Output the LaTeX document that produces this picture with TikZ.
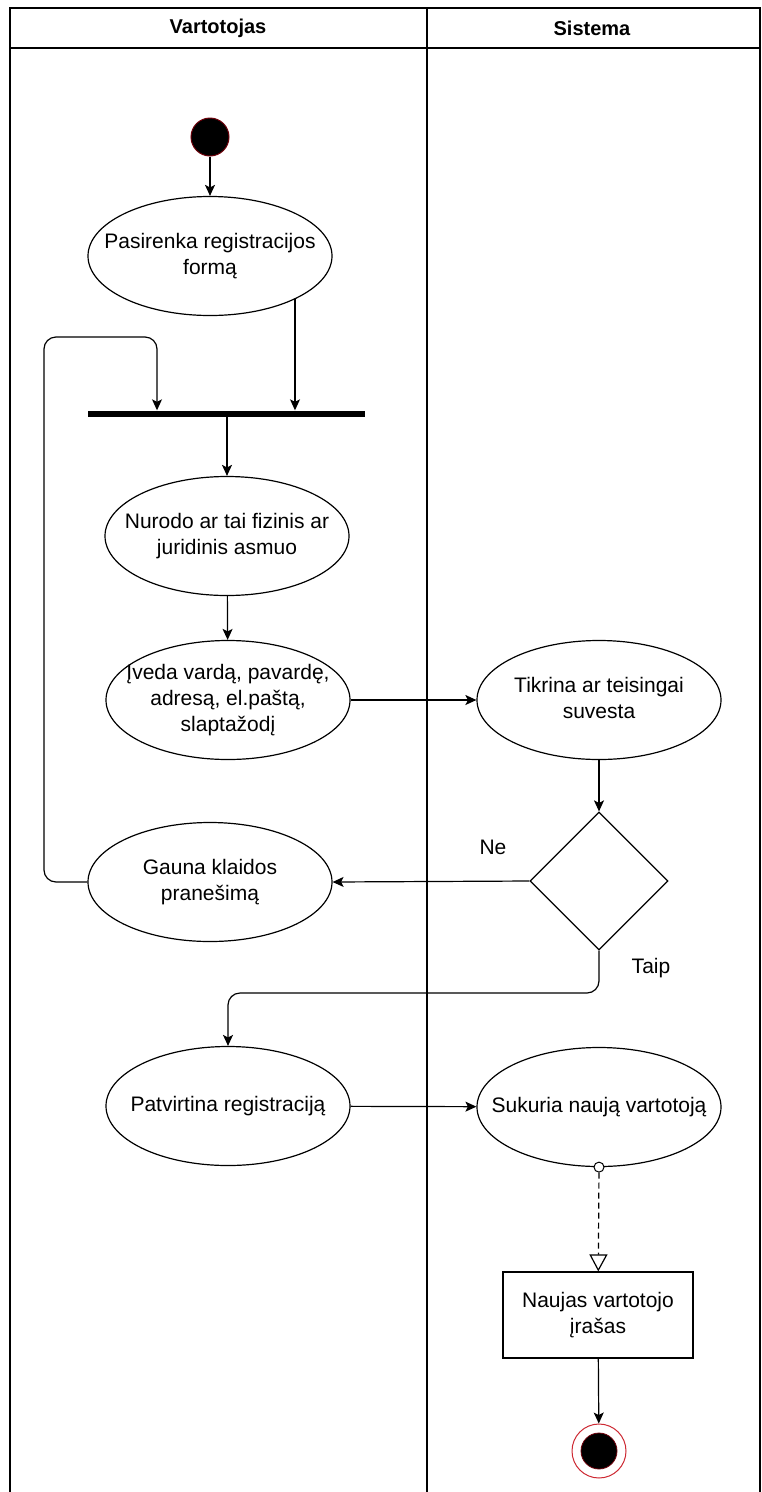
\documentclass[tikz,border=0pt]{standalone}
\usepackage{fontspec}
\setmainfont{Liberation Sans}
\usetikzlibrary{shapes.geometric, arrows.meta}

% centred multi-line text that does not widen the surrounding shape
\newcommand\mlines[1]{\makebox[0pt]{\begin{tabular}{@{}c@{}}#1\end{tabular}}}

\definecolor{darkrim}{RGB}{110,0,10}
\definecolor{endrim}{RGB}{205,40,50}

\begin{document}
\begin{tikzpicture}[x=1pt, y=-1pt,
  every node/.style={font=\fontsize{21}{26}\selectfont},
  lane/.style={line width=1.2pt},
  flow/.style={line width=1.2pt, -{Stealth[length=11pt, width=10pt, inset=2.5pt]}},
  act/.style={ellipse, draw, line width=1.2pt, minimum width=244pt, minimum height=119pt, inner sep=0pt},
  startdot/.style={circle, fill=black, draw=darkrim, line width=1pt, minimum size=38pt, inner sep=0pt},
  forkbar/.style={rectangle, fill=black, minimum width=277pt, minimum height=6pt, inner sep=0pt},
  decision/.style={diamond, draw, line width=1.2pt, aspect=1, minimum width=138pt, minimum height=138pt, inner sep=0pt},
  objbox/.style={rectangle, draw, line width=1.2pt, minimum width=190pt, minimum height=86pt, inner sep=0pt},
  port/.style={circle, draw, fill=white, line width=1pt, minimum size=10pt, inner sep=0pt},
  endring/.style={circle, draw=endrim, fill=white, line width=1pt, minimum size=54pt, inner sep=0pt},
  enddot/.style={circle, fill=black, draw=darkrim, line width=0.8pt, minimum size=36pt, inner sep=0pt},
  headtext/.style={font=\fontsize{20}{24}\selectfont\bfseries}
]
\useasboundingbox (0,0) rectangle (762,1492);

% swimlane frame
\draw[lane] (10,1492) -- (10,8) -- (760,8) -- (760,1492);
\draw[lane] (10,48) -- (760,48);
\draw[lane] (427,8) -- (427,1492);
\node[headtext] (hUser) at (218,28) {Vartotojas};
\node[headtext] (hSys) at (592,28) {Sistema};

% user lane
\node[startdot] (s) at (210,137) {};
\node[act] (e1) at (210,256) {\mlines{Pasirenka registracijos\\formą}};
\node[forkbar] (fork) at (226.5,413.5) {};
\node[act] (e2) at (227,536) {\mlines{Nurodo ar tai fizinis ar\\juridinis asmuo}};
\node[act] (e3) at (228,700) {\mlines{Įveda vardą, pavardę,\\adresą, el.paštą,\\slaptažodį}};
\node[act] (e5) at (210,882) {\mlines{Gauna klaidos\\pranešimą}};
\node[act] (e6) at (228,1106) {\mlines{Patvirtina registraciją}};

% system lane
\node[act] (e4) at (599,700) {\mlines{Tikrina ar teisingai\\suvesta}};
\node[decision] (d) at (599,881) {};
\node (ne) at (493,847) {Ne};
\node (taip) at (651,968) {Taip};
\node[act] (e7) at (599,1107) {\mlines{Sukuria naują vartotoją}};
\node[port] (pc) at (e7.south) {};
\node[objbox] (r) at (598,1315) {\mlines{Naujas vartotojo\\įrašas}};
\node[endring] (fin) at (599,1451) {};
\node[enddot] (finin) at (fin) {};

% connectors
\coordinate (lp) at (44,337);
\coordinate (lq) at (157,0);
\coordinate (ty) at (0,993);

\draw[flow] (s) -- (e1);
\draw[flow] (e1.-27.4) -- (e1.-27.4 |- fork.north);
\draw[flow, rounded corners=12pt] (e5.west) -| (lp) -| (fork.north -| lq);
\draw[flow] (fork.south -| e2.north) -- (e2.north);
\draw[flow] (e2) -- (e3);
\draw[flow] (e3) -- (e4);
\draw[flow] (e4) -- (d);
\draw[flow] (d.west) -- (e5.east);
\draw[flow, rounded corners=12pt] (d.south) -- (d.south |- ty) -| (e6.north);
\draw[flow] (e6) -- (e7);
\draw[line width=1.2pt, dash pattern=on 6pt off 4pt,
      -{Triangle[open, length=17pt, width=18pt]}] (pc) -- (r);
\draw[flow] (r) -- (fin);
\end{tikzpicture}
\end{document}
